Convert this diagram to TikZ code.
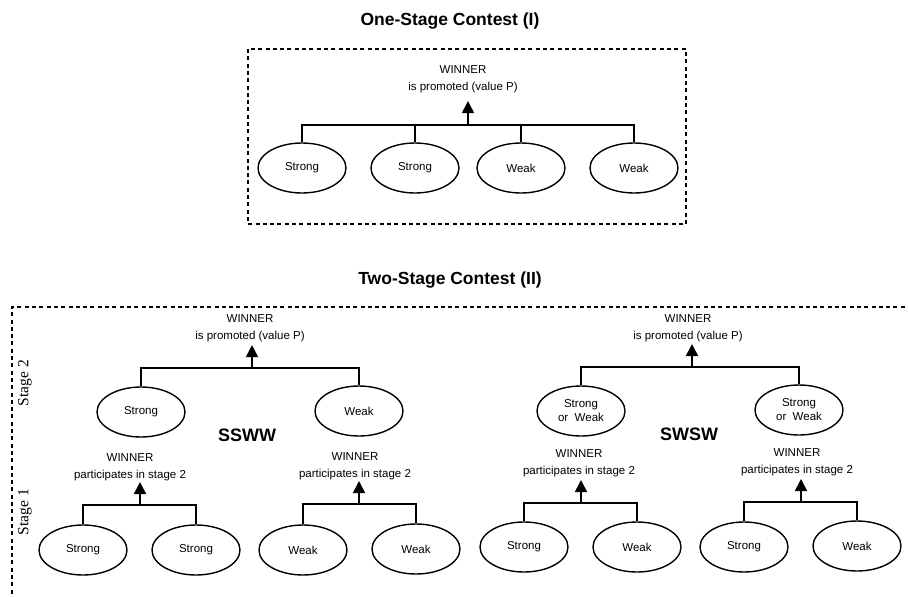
\documentclass[tikz,border=0pt]{standalone}
\usepackage{fontspec}
\setmainfont{Liberation Sans}
\newfontfamily\stagefont{Liberation Serif}
\usetikzlibrary{shapes.geometric,arrows.meta}
\tikzset{
  player/.style={ellipse,draw,line width=1.4pt,minimum width=88pt,minimum height=50pt,inner sep=0pt,font=\fontsize{11.5}{14}\selectfont,align=center},
  conn/.style={line width=1.6pt},
  uparrow/.style={line width=1.6pt,-{Triangle[width=12pt,length=12pt]}},
  winlabel/.style={align=center,inner sep=0pt,font=\fontsize{11.5}{16.5}\selectfont},
  frame/.style={line width=1.2pt,dash pattern=on 4pt off 3.3pt},
  title/.style={font=\bfseries\fontsize{17.5}{20}\selectfont,inner sep=0pt},
  pattern/.style={font=\bfseries\fontsize{18}{20}\selectfont,inner sep=0pt},
  stagelabel/.style={rotate=90,font=\stagefont\fontsize{15.5}{17}\selectfont,inner sep=0pt}
}
\begin{document}
\begin{tikzpicture}[x=1pt,y=-1pt]
\useasboundingbox[fill=white] (0,0) rectangle (908,597);

% ---------- One-stage contest ----------
\node[title] (t1) at (450,21) {One-Stage Contest (I)};
\draw[frame] (248,49) rectangle (686,224);
\node[winlabel] (w0) at (463,79) {WINNER\\is promoted (value P)};
\node[player] (a1) at (302,168) {Strong};
\node[player] (a2) at (415,168) {Strong};
\node[player] (a3) at (521,168) {Weak};
\node[player] (a4) at (634,168) {Weak};
\coordinate (j0) at (468,125);
\coordinate (h0) at (468,101);
\draw[conn] (a1.north) |- (j0) -| (a4.north);
\draw[conn] (a2.north) -- (a2.north |- j0);
\draw[conn] (a3.north) -- (a3.north |- j0);
\draw[uparrow] (j0) -- (h0);

% ---------- Two-stage contest ----------
\node[title] (t2) at (450,280) {Two-Stage Contest (II)};
\coordinate (fr) at (912,307);
\coordinate (fc) at (12,307);
\coordinate (fb) at (12,600);
\draw[frame] (fr) -- (fc) -- (fb);
\node[stagelabel] (st2) at (25,383) {Stage 2};
\node[stagelabel] (st1) at (25,512) {Stage 1};

% SSWW
\node[pattern] (p1) at (247,435) {SSWW};
\node[winlabel] (w1) at (250,328) {WINNER\\is promoted (value P)};
\node[player] (b1) at (141,412) {Strong};
\node[player] (b2) at (359,411) {Weak};
\coordinate (j1) at (252,368);
\coordinate (h1) at (252,345);
\draw[conn] (b1.north) |- (j1) -| (b2.north);
\draw[uparrow] (j1) -- (h1);

\node[winlabel] (w2) at (130,467) {WINNER\\participates in stage 2};
\node[player] (c1) at (83,550) {Strong};
\node[player] (c2) at (196,550) {Strong};
\coordinate (j2) at (140,505);
\coordinate (h2) at (140,482);
\draw[conn] (c1.north) |- (j2) -| (c2.north);
\draw[uparrow] (j2) -- (h2);

\node[winlabel] (w3) at (355,466) {WINNER\\participates in stage 2};
\node[player] (c3) at (303,550) {Weak};
\node[player] (c4) at (416,549) {Weak};
\coordinate (j3) at (359,504);
\coordinate (h3) at (359,481);
\draw[conn] (c3.north) |- (j3) -| (c4.north);
\draw[uparrow] (j3) -- (h3);

% SWSW
\node[pattern] (p2) at (689,434) {SWSW};
\node[winlabel] (w4) at (688,328) {WINNER\\is promoted (value P)};
\node[player] (d1) at (581,411) {Strong\\or\ \ Weak};
\node[player] (d2) at (799,410) {Strong\\or\ \ Weak};
\coordinate (j4) at (692,367);
\coordinate (h4) at (692,344);
\draw[conn] (d1.north) |- (j4) -| (d2.north);
\draw[uparrow] (j4) -- (h4);

\node[winlabel] (w5) at (579,463) {WINNER\\participates in stage 2};
\node[player] (e1) at (524,547) {Strong};
\node[player] (e2) at (637,547) {Weak};
\coordinate (j5) at (581,503);
\coordinate (h5) at (581,480);
\draw[conn] (e1.north) |- (j5) -| (e2.north);
\draw[uparrow] (j5) -- (h5);

\node[winlabel] (w6) at (797,462) {WINNER\\participates in stage 2};
\node[player] (e3) at (744,547) {Strong};
\node[player] (e4) at (857,546) {Weak};
\coordinate (j6) at (801,502);
\coordinate (h6) at (801,479);
\draw[conn] (e3.north) |- (j6) -| (e4.north);
\draw[uparrow] (j6) -- (h6);
\end{tikzpicture}
\end{document}
